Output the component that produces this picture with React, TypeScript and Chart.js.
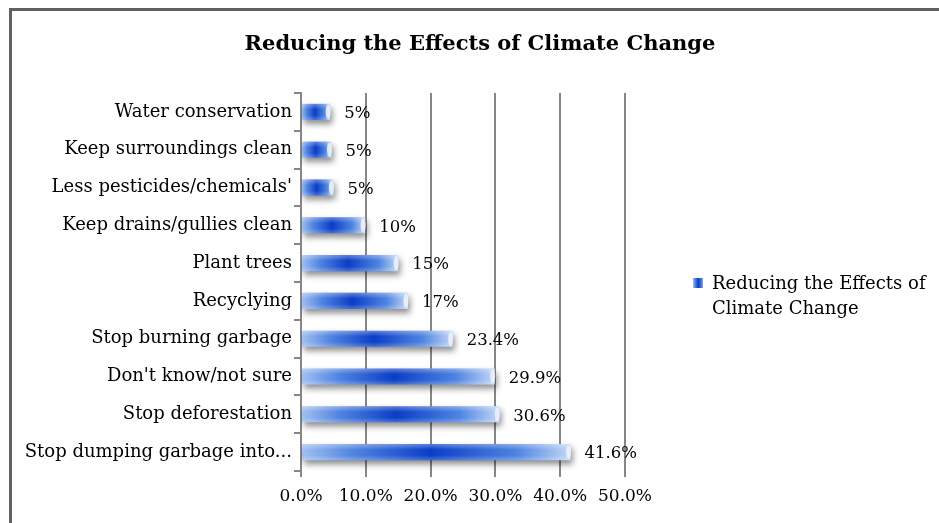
import React, { useEffect, useRef } from "react";
import { Chart, registerables } from "chart.js";

Chart.register(...registerables);

const categories = [
  "Water conservation",
  "Keep surroundings clean",
  "Less pesticides/chemicals'",
  "Keep drains/gullies clean",
  "Plant trees",
  "Recyclying",
  "Stop burning garbage",
  "Don't know/not sure",
  "Stop deforestation",
  "Stop dumping garbage into...",
];
const values = [4.5, 4.7, 5.0, 9.9, 15.0, 16.5, 23.4, 29.9, 30.6, 41.6];
const valueLabels = ["5%", "5%", "5%", "10%", "15%", "17%", "23.4%", "29.9%", "30.6%", "41.6%"];
const xMin = 0;
const xMax = 50;
const xStep = 10;
const chartTitle = "Reducing the Effects of Climate Change";
const legendLines = ["Reducing the Effects of", "Climate Change"];

const FONT = "'DejaVu Serif', serif";
const GRID = "#868686";

function barGradient(c: CanvasRenderingContext2D, x0: number, x1: number) {
  const g = c.createLinearGradient(x0, 0, x1, 0);
  g.addColorStop(0, "#a3c1f1");
  g.addColorStop(0.2, "#4f82e0");
  g.addColorStop(0.48, "#0a3ec6");
  g.addColorStop(0.8, "#4f84e2");
  g.addColorStop(1, "#c2d7f7");
  return g;
}

export default function App() {
  const ref = useRef<HTMLCanvasElement | null>(null);

  useEffect(() => {
    const canvas = ref.current;
    if (!canvas) return;

    const decor = {
      id: "decor",
      beforeDatasetsDraw(chart: any) {
        const c = chart.ctx;
        c.save();
        c.shadowColor = "rgba(0,0,0,0.45)";
        c.shadowBlur = 6;
        c.shadowOffsetX = 2;
        c.shadowOffsetY = 4;
      },
      afterDatasetsDraw(chart: any) {
        const c = chart.ctx;
        c.restore();
        const meta = chart.getDatasetMeta(0);
        meta.data.forEach((bar: any, i: number) => {
          const p = bar.getProps(["x", "y", "base", "height"], true);
          const top = p.y - p.height / 2;
          const left = Math.min(p.base, p.x);
          const w = Math.abs(p.x - p.base);
          const g = c.createLinearGradient(0, top, 0, top + p.height);
          g.addColorStop(0, "rgba(255,255,255,0.35)");
          g.addColorStop(0.35, "rgba(255,255,255,0.0)");
          g.addColorStop(0.7, "rgba(255,255,255,0.0)");
          g.addColorStop(1, "rgba(255,255,255,0.25)");
          c.save();
          c.fillStyle = g;
          c.fillRect(left, top, w, p.height);
          c.fillStyle = "rgba(235,243,255,0.85)";
          c.beginPath();
          c.ellipse(p.x - 2, p.y, 2.5, p.height / 2 - 1, 0, 0, Math.PI * 2);
          c.fill();
          c.restore();
          c.save();
          c.font = `16.5px ${FONT}`;
          c.fillStyle = "#000";
          c.textAlign = "left";
          c.textBaseline = "middle";
          c.fillText(valueLabels[i], p.x + 14, p.y + 2);
          c.restore();
        });
        c.save();
        c.font = `bold 21px ${FONT}`;
        c.fillStyle = "#000";
        c.textAlign = "center";
        c.textBaseline = "middle";
        c.fillText(chartTitle, 480, 45);
        c.fillStyle = barGradient(c, 693, 704);
        c.fillRect(693, 278, 10, 10);
        c.font = `18px ${FONT}`;
        c.textAlign = "left";
        c.fillStyle = "#000";
        c.fillText(legendLines[0], 712, 284);
        c.fillText(legendLines[1], 712, 309);
        c.restore();
      },
    };

    const chart = new Chart(canvas, {
      type: "bar",
      data: {
        labels: categories,
        datasets: [
          {
            label: chartTitle,
            data: values,
            barPercentage: 0.85,
            categoryPercentage: 0.5,
            backgroundColor: (ctx: any) => {
              const ch = ctx.chart;
              if (!ch.chartArea) return "#1f5fd6";
              const xs = ch.scales.x;
              return barGradient(ch.ctx, xs.getPixelForValue(0), xs.getPixelForValue(ctx.raw));
            },
            borderWidth: 0,
          },
        ],
      },
      options: {
        indexAxis: "y",
        responsive: false,
        animation: false,
        devicePixelRatio: 1,
        layout: { padding: { left: 0, right: 314, top: 93, bottom: 0 } },
        plugins: {
          legend: { display: false },
          title: { display: false },
          tooltip: { enabled: false },
        },
        scales: {
          x: {
            min: xMin,
            max: xMax,
            ticks: {
              stepSize: xStep,
              color: "#000",
              font: { family: FONT, size: 17 },
              padding: 9,
              callback: (v: any) => Number(v).toFixed(1) + "%",
            },
            grid: { color: GRID, lineWidth: 2, drawOnChartArea: true, drawTicks: true, tickLength: 6 },
            border: { display: false },
            afterFit: (s: any) => {
              s.height = 523 - 471;
            },
          },
          y: {
            ticks: {
              color: "#000",
              font: { family: FONT, size: 18 },
              padding: 2,
            },
            grid: { color: GRID, lineWidth: 2, drawOnChartArea: false, drawTicks: true, tickLength: 7 },
            border: { display: true, color: GRID, width: 2 },
            afterFit: (s: any) => {
              s.width = 301;
            },
          },
        },
      },
      plugins: [decor],
    });
    return () => chart.destroy();
  }, []);

  return (
    <div style={{ position: "fixed", left: 0, top: 0, width: 939, height: 523, overflow: "hidden", background: "#fff" }}>
      <div
        style={{
          position: "absolute",
          left: 9,
          top: 8,
          width: 1000,
          height: 600,
          border: "3px solid #606060",
          boxSizing: "border-box",
        }}
      />
      <canvas ref={ref} width={939} height={523} style={{ position: "absolute", left: 0, top: 0, width: 939, height: 523 }} />
    </div>
  );
}
